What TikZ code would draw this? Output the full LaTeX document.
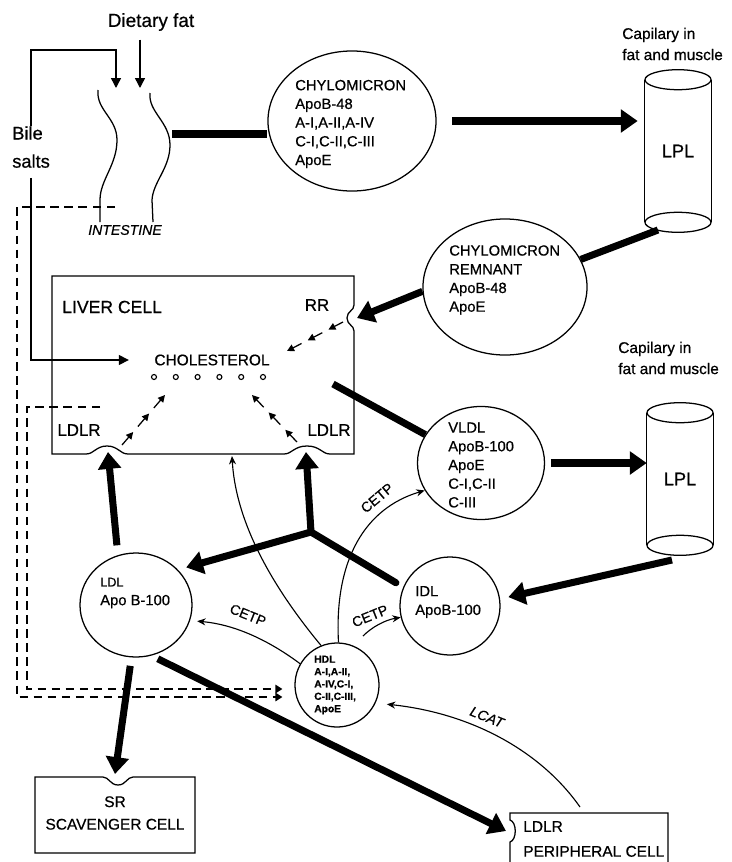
\documentclass[tikz,border=0pt]{standalone}
\usepackage{fontspec}
\setmainfont{Liberation Sans}[FakeBold=0.6]
\usetikzlibrary{arrows.meta,calc,shapes.geometric}

\begin{document}
\begin{tikzpicture}[x=0.025cm,y=-0.025cm,
  lipo/.style={draw,ellipse,line width=0.9pt,inner sep=0pt},
  lbl/.style={font=\fontsize{10.5}{13.3}\selectfont,align=left,inner sep=0pt},
  big/.style={font=\fontsize{12}{14}\selectfont,inner sep=0pt},
  enz/.style={font=\fontsize{10}{12}\selectfont,inner sep=0pt},
  cell/.style={line width=0.9pt},
  capil/.style={inner sep=0pt,minimum width=1.65cm,font=\fontsize{13}{15}\selectfont},
  fatline/.style={line width=5pt},
  fat/.style={line width=5pt,-{Triangle[length=12pt,width=16pt]}},
  feed/.style={line width=1pt,-{Triangle[length=7pt,width=7pt]}},
  thinarr/.style={line width=0.8pt,-{Stealth[length=6pt,width=5pt]}},
  dotarr/.style={line width=0.9pt,-{Triangle[length=5pt,width=5pt]}},
  recycle/.style={line width=1.4pt,dash pattern=on 6pt off 4pt,
    -{Triangle[length=5pt,width=6pt]}}]

  \useasboundingbox (0,0) rectangle (731,862);

  % intestine and what enters it
  \draw[cell] (98,90) .. controls (96,110) and (117,118) .. (117,140)
    .. controls (117,165) and (100,180) .. (100,200) -- (100,222);
  \draw[cell] (150,93) .. controls (148,112) and (170,122) .. (170,145)
    .. controls (170,168) and (153,182) .. (152,200) -- (153,222);
  \node[font=\fontsize{13.5}{16}\selectfont,inner sep=0pt] (diet) at (151,22) {Dietary fat};
  \node[font=\fontsize{13}{20}\selectfont,align=left,inner sep=0pt,anchor=north west]
    (bile) at (12,126) {Bile\\salts};
  \node[font=\itshape\fontsize{10}{12}\selectfont,inner sep=0pt] (intest) at (125,230) {INTESTINE};
  \coordinate (bilein) at (116,88);
  \coordinate (fatin) at (140,88);
  \coordinate (intout) at (172,134);
  \draw[feed] (bile.north) -- ++(0,-76) -| (bilein);
  \draw[feed,shorten <=6pt] (fatin |- diet.south) -- (fatin);

  % lipoproteins
  \node[lipo,minimum width=4.2cm,minimum height=3.5cm] (chylo) at (352,121) {};
  \node[lbl,anchor=west] (chylo-t) at (295,124)
    {CHYLOMICRON\\ApoB-48\\A-I,A-II,A-IV\\C-I,C-II,C-III\\ApoE};
  \node[lipo,minimum width=4.1cm,minimum height=3.4cm] (remnant) at (505,287) {};
  \node[lbl,anchor=west] (remnant-t) at (449,280)
    {CHYLOMICRON\\REMNANT\\ApoB-48\\ApoE};
  \node[lipo,minimum width=3.175cm,minimum height=2.825cm] (vldl) at (481,463) {};
  \node[lbl,anchor=west] (vldl-t) at (448,465)
    {VLDL\\ApoB-100\\ApoE\\C-I,C-II\\C-III};
  \node[lipo,minimum width=2.5cm,minimum height=2.45cm] (idl) at (450,606) {};
  \node[lbl,anchor=west] (idl-t) at (415,602) {IDL\\ApoB-100};
  \node[lipo,minimum width=2.8cm,minimum height=2.6cm] (ldl) at (136,605) {};
  \node[lbl,anchor=west] (ldl-t) at (100,593)
    {{\fontsize{9}{11}\selectfont LDL}\\Apo B-100};
  \node[lipo,minimum width=2.1cm,minimum height=2.1cm] (hdl) at (337,685) {};
  \node[lbl,anchor=west,font=\bfseries\fontsize{7.3}{8.8}\selectfont] (hdl-t) at (314,685)
    {HDL\\A-I,A-II,\\A-IV,C-I,\\C-II,C-III,\\ApoE};

  % capillaries
  \node[capil,minimum height=3.55cm] (lpl1) at (678,151) {LPL};
  \node[capil,minimum height=3.3cm] (lpl2) at (680,479) {LPL};
  \foreach \c in {lpl1,lpl2} {
    \draw[cell] (\c.north west) -- (\c.south west) (\c.north east) -- (\c.south east);
    \draw[cell] (\c.north) ellipse [x radius=0.825cm,y radius=0.25cm];
    \draw[cell] (\c.south) ellipse [x radius=0.825cm,y radius=0.25cm];
  }
  \node[font=\fontsize{11}{15}\selectfont,align=left,inner sep=0pt,anchor=west]
    (cap1) at (622,44) {Capilary in\\fat and muscle};
  \node[font=\fontsize{11}{15}\selectfont,align=left,inner sep=0pt,anchor=west]
    (cap2) at (618,358) {Capilary in\\fat and muscle};

  % liver cell with its receptors
  \draw[cell] (52,276) -- (354,276) -- (354,305)
    .. controls (354,311) and (347,311) .. (347,318)
    .. controls (347,325) and (354,325) .. (354,331)
    -- (354,454) -- (330,454)
    .. controls (322,454) and (320,446) .. (307,446)
    .. controls (294,446) and (292,454) .. (284,454)
    -- (128,454)
    .. controls (120,454) and (118,446) .. (107,446)
    .. controls (96,446) and (94,454) .. (86,454)
    -- (52,454) -- cycle;
  \node[font=\fontsize{12.5}{15}\selectfont,inner sep=0pt,anchor=west] (liver) at (62,307) {LIVER CELL};
  \node[big] (rr-l) at (317,305) {RR};
  \node[font=\fontsize{11}{13}\selectfont,inner sep=0pt] (chol) at (212,360) {CHOLESTEROL};
  \node[big] (ldlr1) at (79,430) {LDLR};
  \node[big] (ldlr2) at (329,430) {LDLR};
  \foreach \i in {0,...,5}
    \draw[line width=0.8pt] ({154+21.8*\i},377) circle [radius=2.5];
  \coordinate (rr) at (357,318);
  \coordinate (ldlr-l) at (108,452);
  \coordinate (ldlr-r) at (306,452);
  \coordinate (livmid) at (232,456);
  \coordinate (livout) at (333,384);
  \draw[feed,shorten <=7pt,shorten >=18pt] (bile.south) |- (chol.west);

  % short arrows that carry cholesterol inward
  \coordinate (rr-a) at (343,322);  \coordinate (rr-b) at (287,351);
  \coordinate (lf-a) at (122,445);  \coordinate (lf-b) at (165,395);
  \coordinate (rt-a) at (297,442);  \coordinate (rt-b) at (252,395);
  \foreach \p in {rr,lf,rt}
    \foreach \a/\b in {0/0.26,0.37/0.63,0.74/1}
      \draw[dotarr] ($(\p-a)!\a!(\p-b)$) -- ($(\p-a)!\b!(\p-b)$);

  % scavenger and peripheral cells
  \draw[cell] (35,777) -- (103,777) .. controls (109,777) and (110,785) .. (118,785)
    .. controls (126,785) and (127,777) .. (133,777) -- (195,777) -- (195,853)
    -- (35,853) -- cycle;
  \node[align=center,font=\fontsize{11}{16}\selectfont,inner sep=0pt] (scav) at (115,813)
    {SR\\SCAVENGER CELL};
  \draw[cell] (510,862) -- (510,842) .. controls (517,840) and (517,822) .. (510,820)
    -- (510,813) -- (668,813) -- (668,862);
  \node[align=left,font=\fontsize{11}{17.7}\selectfont,inner sep=0pt,anchor=west]
    (peri) at (523,839) {LDLR\\PERIPHERAL CELL};
  \coordinate (sr) at (115,774);
  \coordinate (per) at (506,831);

  % main flow
  \coordinate (lpl1out) at (658,230);
  \coordinate (lpl2out) at (672,560);
  \coordinate (junc) at (311,532);
  \draw[fatline] (intout) -- (intout -| chylo.west);
  \draw[fat,shorten <=11pt,shorten >=5pt] (chylo.east) -- (chylo.east -| lpl1.west);
  \draw[fatline] (lpl1out) -- (remnant.20);
  \draw[fat] (remnant.183) -- (rr);
  \draw[fatline] (livout) -- (vldl.153);
  \draw[fat,shorten <=4pt] (vldl.east) -- (vldl.east -| lpl2.west);
  \draw[fat,shorten >=6pt] (lpl2out) -- (idl.8);
  \draw[fatline,line cap=round,shorten <=6pt] (idl.158) -- (junc);
  \draw[fat] (junc) -- (ldlr-r);
  \draw[fat,shorten >=6pt] (junc) -- (ldl.40);
  \draw[fat,shorten <=7pt] (ldl.110) -- (ldlr-l);
  \draw[fat,shorten <=6pt] (ldl.265) -- (sr);
  \draw[fat,shorten <=5pt] (ldl.-73) -- (per);

  % exchanges around HDL
  \coordinate (h2i) at (363,636);
  \coordinate (lcat-s) at (580,807);
  \draw[thinarr] (hdl.112) .. controls (275,590) and (236,525) .. (livmid);
  \draw[thinarr] (hdl.88) .. controls (334,560) and (365,508) .. (vldl.206);
  \draw[thinarr] (h2i) .. controls (372,627) and (385,620) .. (idl.193);
  \draw[thinarr,shorten >=5pt] (hdl.150) .. controls (275,645) and (240,625) .. (ldl.-16);
  \draw[thinarr,shorten >=8pt] (lcat-s) .. controls (540,750) and (470,713) .. (hdl.-25);
  \node[enz,rotate=40] (cetp1) at (377,498) {CETP};
  \node[enz,rotate=22] (cetp2) at (370,616) {CETP};
  \node[enz,rotate=-22] (cetp3) at (248,615) {CETP};
  \node[enz,font=\itshape\fontsize{10}{12}\selectfont,rotate=-22] (lcat) at (487,717) {LCAT};

  % bile acid recycling
  \coordinate (dash-o) at (115,207);
  \coordinate (dash-i) at (100,407);
  \draw[recycle,shorten >=8.5pt] (dash-o) -- (17,207) -- (17,697) -- (hdl.west |- 0,697);
  \draw[recycle,shorten >=8.5pt] (dash-i) -- (27,407) -- (27,689) -- (hdl.west |- 0,689);
\end{tikzpicture}
\end{document}
